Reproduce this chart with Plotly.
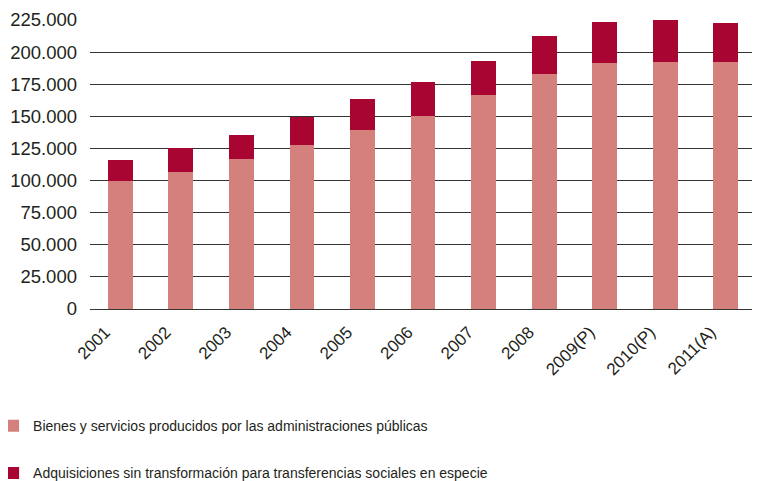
import plotly.graph_objects as go

years = ["2001", "2002", "2003", "2004", "2005", "2006", "2007", "2008", "2009(P)", "2010(P)", "2011(A)"]
bienes = [100000, 107000, 117000, 128000, 139600, 150500, 166800, 183200, 191700, 192500, 192500]
adquisiciones = [16300, 18600, 18700, 21800, 24100, 26400, 26500, 29600, 32000, 32200, 30400]
y_ticks = [0, 25000, 50000, 75000, 100000, 125000, 150000, 175000, 200000, 225000]

fig = go.Figure()
fig.add_trace(go.Bar(
    x=years, y=bienes, name="Bienes y servicios producidos por las administraciones públicas",
    marker=dict(color="#D4817D", line=dict(width=0)), legendgroup="a"))
fig.add_trace(go.Bar(
    x=years, y=adquisiciones, name="Adquisiciones sin transformación para transferencias sociales en especie",
    marker=dict(color="#A80532", line=dict(width=0)), legendgroup="b"))

# page body has an 8px default margin: figure is sized/placed to compensate
fig.update_layout(
    width=752, height=473,
    barmode="stack", bargap=0.59,
    separators=",.",
    plot_bgcolor="white", paper_bgcolor="white",
    margin=dict(l=82, r=4, t=12, b=172, autoexpand=False),
    font=dict(family="Liberation Sans, Arial, sans-serif", color="#231F20"),
    xaxis=dict(tickangle=-45, tickfont=dict(size=17), showgrid=False, showline=False,
               ticks="", ticklen=0, ticklabelshift=-15, ticklabelstandoff=9, automargin=False),
    yaxis=dict(range=[0, 225000], tickvals=y_ticks, tickformat=",d",
               tickfont=dict(size=18.5), showgrid=True, gridcolor="#333333", gridwidth=1,
               zeroline=True, zerolinecolor="#333333", zerolinewidth=1, ticks="",
               showline=False, ticklabelstandoff=12, automargin=False),
    showlegend=True,
    legend=dict(orientation="v", x=-0.1455, xanchor="left", y=-0.35, yanchor="top",
                font=dict(family="Liberation Sans, Arial, sans-serif", size=14, color="#231F20"),
                tracegroupgap=26, traceorder="grouped", bgcolor="rgba(0,0,0,0)"),
)

fig.write_html("out.html")
